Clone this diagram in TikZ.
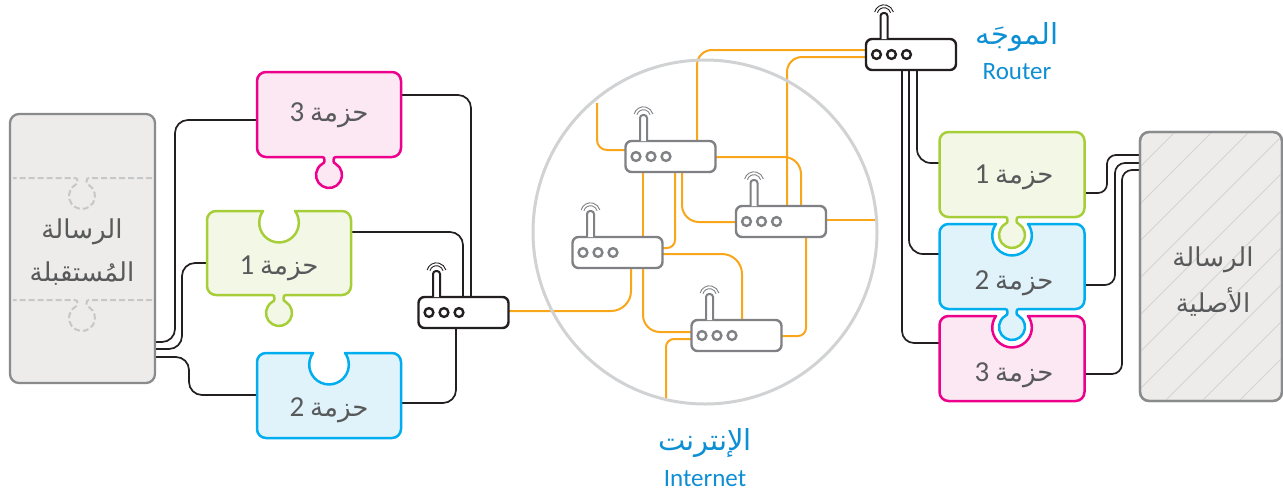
\documentclass[tikz,border=0pt]{standalone}
\usepackage{fontspec}
\usetikzlibrary{calc}
\setmainfont{Carlito}
\newfontfamily\arfont[Script=Arabic]{DejaVu Sans}
\TeXXeTstate=1
\definecolor{txt}{HTML}{58595B}
\definecolor{lbl}{HTML}{0F8FD3}
\definecolor{gline}{HTML}{8A8B8D}
\definecolor{gfill}{HTML}{EDECEA}
\definecolor{rgray}{HTML}{808184}
\definecolor{rblack}{HTML}{231F20}
\definecolor{oran}{HTML}{FAA61A}
\definecolor{cpink}{HTML}{EC008C}
\definecolor{fpink}{HTML}{FCE8F2}
\definecolor{cgreen}{HTML}{A6CE39}
\definecolor{fgreen}{HTML}{F3F7E6}
\definecolor{cblue}{HTML}{00AEEF}
\definecolor{fblue}{HTML}{E0F3FB}
\definecolor{hatchc}{HTML}{D3D3D3}
\definecolor{dashc}{HTML}{C6C7C8}
\definecolor{circ}{HTML}{D1D2D3}
\pgfdeclarelayer{bg}
\pgfsetlayers{bg,main}
\tikzset{
  x=1pt,y=-1pt,
  pbox/.style={inner sep=0,outer sep=0,minimum height=85pt,minimum width=144pt},
  rbox/.style={draw,fill=white,line width=2.4pt,rounded corners=6pt,inner sep=0,outer sep=0,minimum width=90pt,minimum height=31pt},
  msg/.style={draw=gline,fill=gfill,line width=2.3pt,rounded corners=9pt,inner sep=0,outer sep=0},
  pktline/.style={line width=2.5pt,line join=round},
  blk/.style={draw=rblack,line width=1.7pt},
  org/.style={draw=oran,line width=2pt},
  lab/.style={text=txt,font=\fontsize{26}{30}\selectfont,inner sep=0},
  big/.style={text=lbl,font=\fontsize{29}{30}\selectfont,inner sep=0},
  eng/.style={text=lbl,font=\fontsize{25}{30}\selectfont,inner sep=0},
  dashp/.style={draw=dashc,line width=2pt,dash pattern=on 6pt off 3pt}
}
\newcommand{\ar}[1]{{\arfont\beginR #1\endR}}
\newcommand{\pk}[1]{{\fontsize{29}{30}\selectfont #1}~\ar{حزمة}}
\newcommand{\nt}[2]{-- ({#1-16},#2) arc[start angle=216,end angle=-36,radius=19.8] }
\newcommand{\tb}[2]{-- ({#1+7},#2) .. controls ({#1+5},#2) and ({#1+4.5},{#2+1}) .. ({#1+4.5},{#2+3.5})
 .. controls ({#1+4.5},{#2+5.5}) and ({#1+5},{#2+6}) .. ({#1+6.7},{#2+6.86})
 arc[start angle=-59,end angle=239,radius=13]
 .. controls ({#1-5},{#2+6}) and ({#1-4.5},{#2+5.5}) .. ({#1-4.5},{#2+3.5})
 .. controls ({#1-4.5},{#2+1}) and ({#1-5},#2) .. ({#1-7},#2) }
\newcommand{\packetshape}[8]{%
 \path[pktline,draw=#5,fill=#6] (#1,{#2+9}) arc[start angle=180,end angle=270,radius=9] #7
  -- ({#3-9},#2) arc[start angle=-90,end angle=0,radius=9]
  -- (#3,{#4-9}) arc[start angle=0,end angle=90,radius=9] #8
  -- ({#1+9},#4) arc[start angle=90,end angle=180,radius=9] -- cycle;}
\newcommand{\router}[4]{%
 \node[rbox,draw=#4] (#1) at (#2,#3) {};
 \draw[#4,line width=2pt,fill=white,rounded corners=3pt] ({#2-30.5},{#3-15.5}) -- ({#2-30.5},{#3-41.5}) -- ({#2-23.5},{#3-41.5}) -- ({#2-23.5},{#3-15.5});
 \draw[#4,line width=.9pt] ({#2-27-9.7*cos(15)},{#3-40-9.7*sin(15)}) arc[start angle=195,end angle=345,radius=9.7];
 \draw[#4,line width=.9pt] ({#2-27-6.8*cos(15)},{#3-40-6.8*sin(15)}) arc[start angle=195,end angle=345,radius=6.8];
 \foreach \dx in {-34.5,-19.5,-4.5} \draw[#4,line width=2.4pt] ({#2+\dx},{#3}) circle[radius=4.4];
}
\begin{document}
\begin{tikzpicture}
\useasboundingbox (0,0) rectangle (1283,491);

% received message
\node[msg,minimum width=145pt,minimum height=269pt] (R) at (82.5,248.5) {};
\path[dashp] (152,178) \tb{82}{178} -- (13,178);
\path[dashp] (152,300) \tb{82}{300} -- (13,300);
\node[lab] (Rt) at (82,232) {\ar{الرسالة}};
\node[lab] (Rb) at (82,274) {\ar{المُستقبلة}};

% left packets
\node[pbox] (p3) at (329,114.5) {};
\node[pbox] (p1) at (279,253) {};
\node[pbox] (p2) at (329,395.5) {};
\packetshape{257}{72}{401}{157}{cpink}{fpink}{}{\tb{329}{157}}
\packetshape{207}{211}{351}{295}{cgreen}{fgreen}{\nt{279}{211}}{\tb{279}{295}}
\packetshape{257}{353}{401}{438}{cblue}{fblue}{\nt{329}{353}}{}
\node[lab] (p3t) at (329,115) {\pk{3}};
\node[lab] (p1t) at (279,268) {\pk{1}};
\node[lab] (p2t) at (329,410) {\pk{2}};

% original message
\node[msg,minimum width=142pt,minimum height=269pt] (O) at (1211,266.5) {};
\begin{scope}
\clip[rounded corners=9pt] (O.south west) rectangle (O.north east);
\foreach \hc in {1270,1307,...,1690} \draw[hatchc,line width=1pt] ({\hc-100},100) -- ({\hc-420},420);
\end{scope}
\draw[gline,line width=2.3pt,rounded corners=9pt] (O.south west) rectangle (O.north east);
\node[lab] (Ot) at (1213,260) {\ar{الرسالة}};
\node[lab] (Ob) at (1213,302) {\ar{الأصلية}};

% right packets
\node[pbox,minimum width=146pt] (P1) at (1012,174.5) {};
\node[pbox,minimum width=146pt] (P2) at (1012,266.5) {};
\node[pbox,minimum width=146pt] (P3) at (1012,358.5) {};
\packetshape{939.5}{132}{1084.5}{217}{cgreen}{fgreen}{}{\tb{1012}{217}}
\packetshape{939.5}{224}{1084.5}{309}{cblue}{fblue}{\nt{1012}{224}}{\tb{1012}{309}}
\packetshape{939.5}{316}{1084.5}{401}{cpink}{fpink}{\nt{1012}{316}}{}
\node[lab] (P1t) at (1014,177) {\pk{1}};
\node[lab] (P2t) at (1014,283) {\pk{2}};
\node[lab] (P3t) at (1014,375) {\pk{3}};

% routers
\router{r0}{463.5}{312.5}{rblack}
\router{r1}{670.5}{156.5}{rgray}
\router{r2}{781}{221.5}{rgray}
\router{r3}{617.5}{252.5}{rgray}
\router{r4}{736.5}{335.5}{rgray}
\router{r5}{911}{54.5}{rblack}

% labels
\node[big] (lr) at (1017,37) {\ar{الموجَه}};
\node[eng] (lre) at (1017,72) {Router};
\node[big] (li) at (705,443) {\ar{الإنترنت}};
\node[eng] (lie) at (705,479) {Internet};

\coordinate (endA) at (875,220);
\coordinate (endB) at (666,401);
\coordinate (endC) at (597,103);

\begin{pgfonlayer}{bg}
% black connectors, left
\draw[blk,rounded corners=13pt] ($(R.east)+(0,93.5)$) -| (175,120) -- ($(p3.west)+(0,5.5)$);
\draw[blk,rounded corners=13pt] ($(R.east)+(0,100.5)$) -| (182,263) -- ($(p1.west)+(0,10)$);
\draw[blk,rounded corners=13pt] ($(R.east)+(0,108.5)$) -| (189,395) -- ($(p2.west)+(0,-.5)$);
\draw[blk,rounded corners=13pt] ($(p3.east)+(0,-19.5)$) -| ($(r0.north)+(7.5,0)$);
\draw[blk,rounded corners=13pt] ($(p1.east)+(0,-21)$) -| ($(r0.north)+(-.5,0)$);
\draw[blk,rounded corners=13pt] ($(p2.east)+(0,7.5)$) -| ($(r0.south)+(-7.5,0)$);
% black connectors, right
\draw[blk,rounded corners=14pt] ($(r5.south)+(6,0)$) |- ($(P1.west)+(0,-11.5)$);
\draw[blk,rounded corners=14pt] ($(r5.south)+(-2,0)$) |- ($(P2.west)+(0,-12.5)$);
\draw[blk,rounded corners=12pt] ($(r5.south)+(-9,0)$) |- ($(P3.west)+(0,-15.5)$);
\draw[blk,rounded corners=9pt] ($(P1.east)+(0,18.5)$) -| (1107,155) -- ($(O.west)+(0,-111.5)$);
\draw[blk,rounded corners=10pt] ($(P2.east)+(0,18.5)$) -| (1115,163) -- ($(O.west)+(0,-103.5)$);
\draw[blk,rounded corners=10pt] ($(P3.east)+(0,15.5)$) -| (1122,170) -- ($(O.west)+(0,-96.5)$);
% orange connectors
\draw[org,rounded corners=20pt] ($(r0.east)+(0,-1.5)$) -| ($(r3.south)+(13.5,0)$);
\draw[org] ($(r3.north)+(25.5,0)$) -- ($(r1.south)+(-27.5,0)$);
\draw[org,rounded corners=17pt] ($(r3.south)+(25.5,0)$) |- ($(r4.west)+(0,-3.5)$);
\draw[org,rounded corners=8pt] ($(r1.south)+(4.5,0)$) |- ($(r3.east)+(0,-4.5)$);
\draw[org,rounded corners=17pt] ($(r1.south)+(11.5,0)$) |- ($(r2.west)+(0,.5)$);
\draw[org,rounded corners=17pt] ($(r1.east)+(0,.5)$) -| ($(r2.north)+(20,0)$);
\draw[org,rounded corners=20pt] ($(r3.east)+(0,1.5)$) -| ($(r4.north)+(5.5,0)$);
\draw[org,rounded corners=8pt] ($(r2.south)+(25,0)$) |- ($(r4.east)+(0,.5)$);
\draw[org] ($(r2.east)+(0,-1.5)$) -- (endA);
\draw[org,rounded corners=8pt] ($(r4.west)+(0,3.5)$) -| (endB);
\draw[org,rounded corners=10pt] ($(r1.west)+(0,-6.5)$) -| (endC);
\draw[org,rounded corners=15pt] ($(r1.north)+(26.5,0)$) |- ($(r5.west)+(0,-4.5)$);
\draw[org,rounded corners=15pt] ($(r2.north)+(6,0)$) |- ($(r5.west)+(0,2.5)$);
% internet circle
\draw[circ,line width=3pt] (705,232) circle[radius=172];
\end{pgfonlayer}
\end{tikzpicture}
\end{document}
